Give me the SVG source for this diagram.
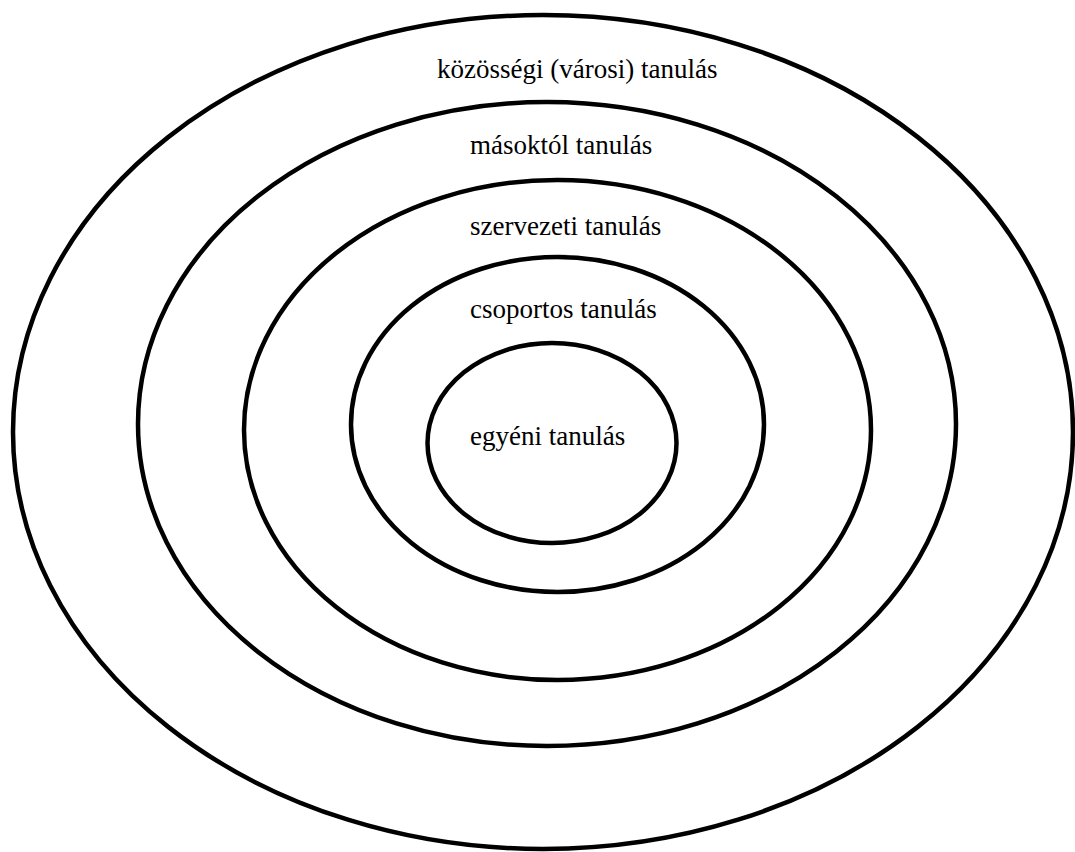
<svg xmlns="http://www.w3.org/2000/svg" width="1075" height="852" viewBox="0 0 1075 852">
<style>
.ring{fill:none;stroke:#000;stroke-width:4.5}
.lbl{font-family:"Liberation Serif","Times New Roman",serif;font-size:27px;fill:#000}
</style>
<rect width="1075" height="852" fill="#fff"/>
<g id="kozossegi">
<ellipse class="ring" cx="543" cy="432" rx="530" ry="417"/>
<text class="lbl" x="437" y="78">közösségi (városi) tanulás</text>
</g>
<g id="masoktol">
<ellipse class="ring" cx="547" cy="424" rx="409" ry="322"/>
<text class="lbl" x="470" y="154">másoktól tanulás</text>
</g>
<g id="szervezeti">
<ellipse class="ring" cx="557.5" cy="430" rx="313.5" ry="250"/>
<text class="lbl" x="470" y="235">szervezeti tanulás</text>
</g>
<g id="csoportos">
<ellipse class="ring" cx="557.5" cy="424.5" rx="206.5" ry="167.5"/>
<text class="lbl" x="470" y="318">csoportos tanulás</text>
</g>
<g id="egyeni">
<ellipse class="ring" cx="552" cy="443" rx="124.5" ry="100"/>
<text class="lbl" x="470" y="445">egyéni tanulás</text>
</g>
<g id="connectors"/>
</svg>
